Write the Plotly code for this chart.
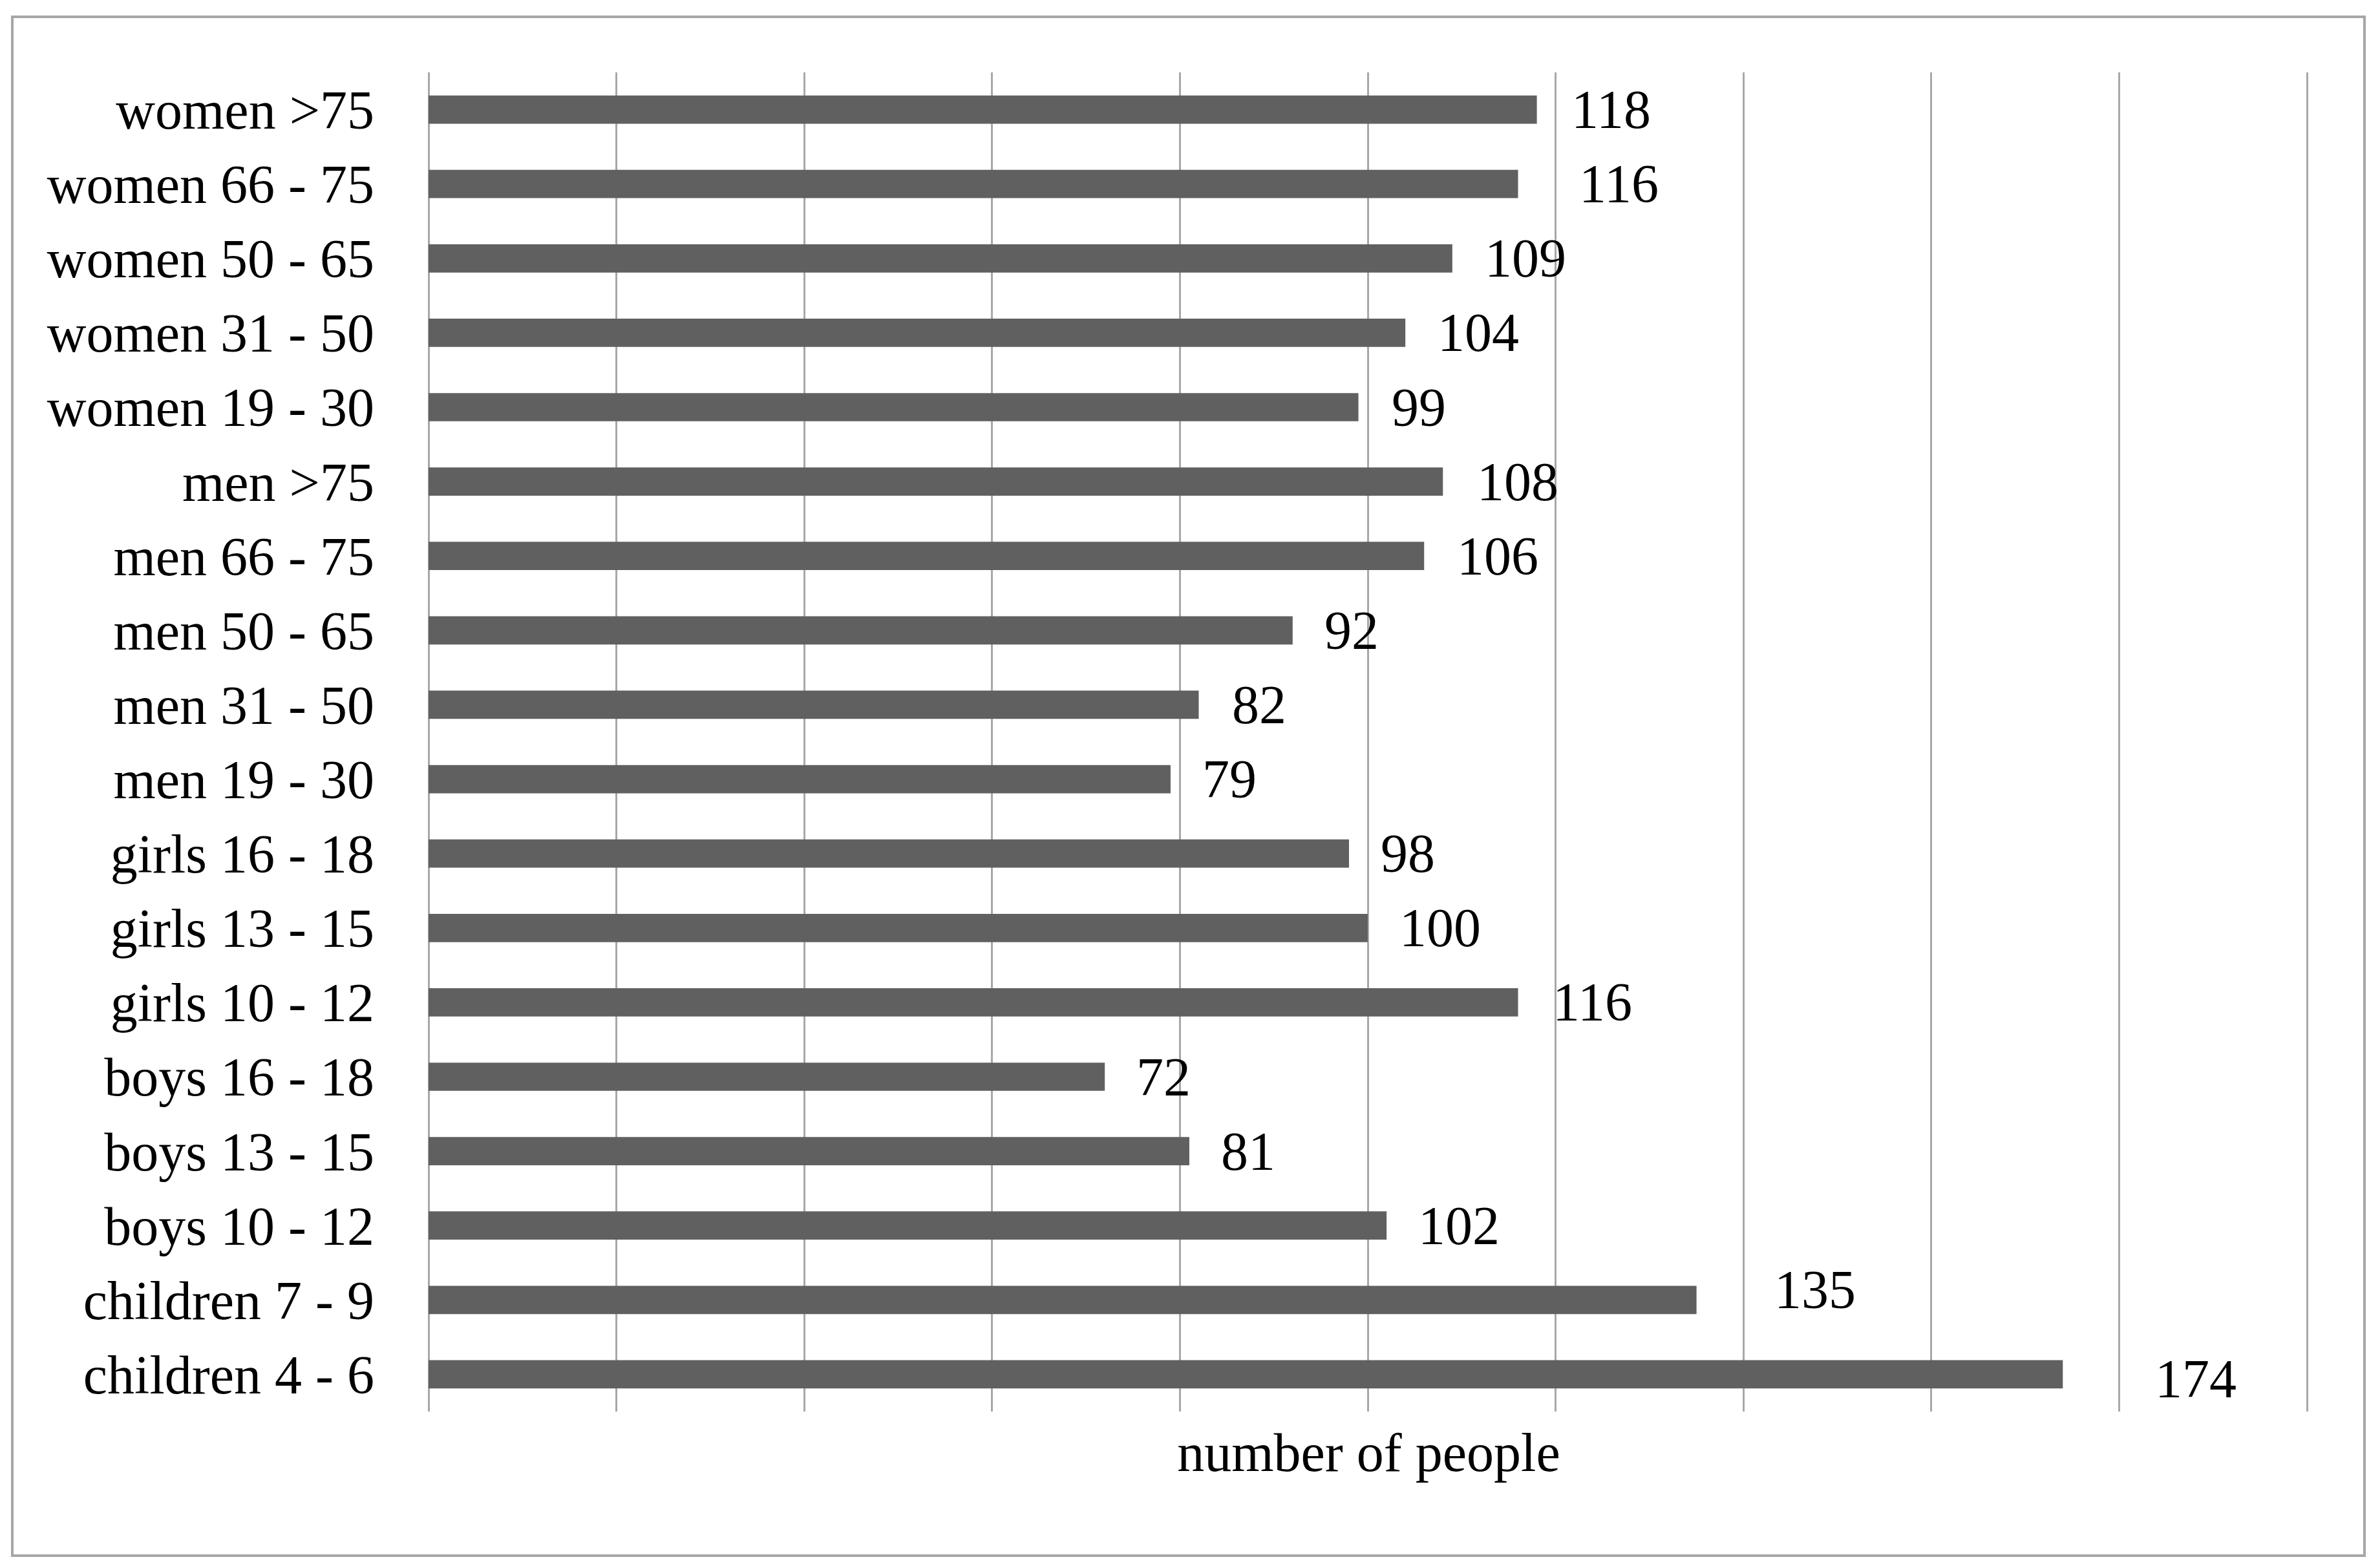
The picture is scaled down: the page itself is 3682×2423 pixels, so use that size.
import plotly.graph_objects as go

# categories top to bottom, as in the picture
groups = ['women >75', 'women 66 - 75', 'women 50 - 65', 'women 31 - 50', 'women 19 - 30',
          'men >75', 'men 66 - 75', 'men 50 - 65', 'men 31 - 50', 'men 19 - 30',
          'girls 16 - 18', 'girls 13 - 15', 'girls 10 - 12',
          'boys 16 - 18', 'boys 13 - 15', 'boys 10 - 12',
          'children 7 - 9', 'children 4 - 6']
people = [118, 116, 109, 104, 99, 108, 106, 92, 82, 79, 98, 100, 116, 72, 81, 102, 135, 174]

# where the data labels sit relative to the bar end (px)
label_dx = [51, 92, 48, 48, 49, 51, 49, 47, 49, 47, 47, 47, 51, 47, 47, 47, 118, 141]
label_dy = [0, 0, 0, 0, 0, 0, 0, 0, 0, 0, 0, 0, 0, 0, 0, 0, 16, -7]

W, H = 3682, 2423
off = 8  # page body margin
left, right, top, bottom = 663 - off, 3572 - off, 112 - off, 2184 - off
font = 'Liberation Serif'

fig = go.Figure(go.Bar(x=people, y=groups, orientation='h',
                       marker=dict(color='#606060', line=dict(width=0)),
                       width=0.38))

for g, v, dx, dy in zip(groups, people, label_dx, label_dy):
    fig.add_annotation(x=v, y=g, text=str(v), showarrow=False, xanchor='left',
                       xshift=dx, yshift=dy, font=dict(family=font, size=84, color='black'))

# outer frame
pw, ph = right - left, bottom - top
fig.add_shape(type='rect', xref='paper', yref='paper',
              x0=(19 - off - left) / pw, x1=(3658 - off - left) / pw,
              y0=(bottom - (2407 - off)) / ph, y1=(bottom - (26 - off)) / ph,
              line=dict(color='#a6a6a6', width=4))

fig.update_layout(
    width=W, height=H,
    margin=dict(l=left, r=W - right, t=top, b=H - bottom),
    plot_bgcolor='white', paper_bgcolor='white',
    showlegend=False,
    font=dict(family=font, size=84, color='black'),
    xaxis=dict(range=[0, 200.2], tick0=0, dtick=20, showgrid=True, gridcolor='#a8a8a8', gridwidth=3,
               zeroline=True, zerolinecolor='#a8a8a8', zerolinewidth=3,
               showticklabels=False, ticks='', showline=False,
               title=dict(text='number of people', standoff=33,
                          font=dict(family=font, size=84, color='black'))),
    yaxis=dict(type='category', autorange='reversed', showgrid=False, showline=False,
               ticks='', ticklabelstandoff=83,
               tickfont=dict(family=font, size=84, color='black')),
)

fig.write_html("out.html")
